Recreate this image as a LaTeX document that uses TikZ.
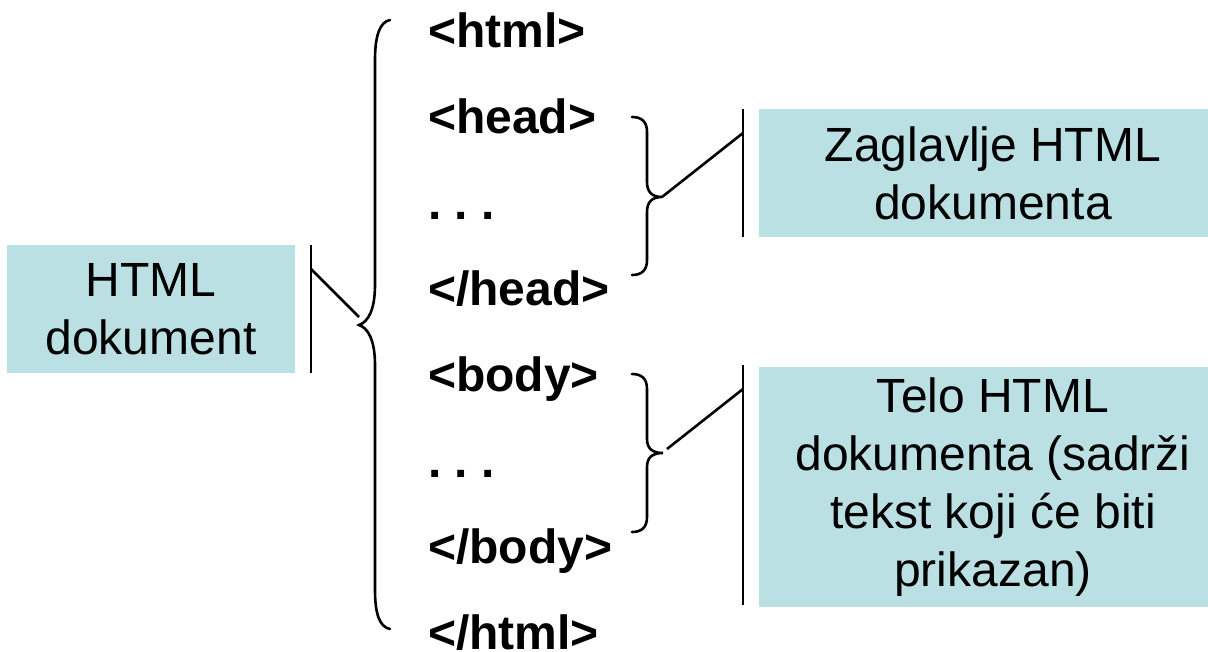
\documentclass[tikz,border=0pt]{standalone}
\usepackage{fontspec}
\setmainfont{Liberation Sans}
\definecolor{boxfill}{RGB}{187,224,227}
\begin{document}
\begin{tikzpicture}[x=1pt,y=-1pt,
  infobox/.style={fill=boxfill, inner sep=0pt, align=center, font=\fontsize{48}{58}\selectfont},
  tag/.style={anchor=base west, inner sep=0pt, font=\fontsize{48}{52}\selectfont\bfseries},
  ln/.style={line width=2.6pt, black},
  brace/.style={line width=2.6pt, black, line cap=round}]
\useasboundingbox (0,0) rectangle (1208,651);
\clip (0,0) rectangle (1208,651);
\fill[white] (0,0) rectangle (1208,651);

% boxes
\node[infobox, minimum width=288pt, minimum height=128pt] (doc) at (151,309) {HTML\\dokument};
\node[infobox, minimum width=468pt, minimum height=128pt] (head) at (993,173) {Zaglavlje HTML\\dokumenta};
\node[infobox, minimum width=468pt, minimum height=240pt] (body) at (993,487) {Telo HTML\\dokumenta (sadr\v{z}i\\tekst koji \'ce biti\\prikazan)};

% tags
\node[tag] (t1) at (428,47)  {<html>};
\node[tag] (t2) at (428,133) {<head>};
\node[tag] (t3) at (428,219) {.\ .\ .};
\node[tag] (t4) at (428,305) {</head>};
\node[tag] (t5) at (428,391) {<body>};
\node[tag] (t6) at (428,477) {.\ .\ .};
\node[tag] (t7) at (428,563) {</body>};
\node[tag] (t8) at (428,649) {</html>};

% left connector
\coordinate (lt) at (311,245);
\coordinate (lb) at (311,373);
\coordinate (ld) at (311,269);
\coordinate (bigtip) at (359,325);
\draw[ln] (lt) -- (lb);
\draw[ln] (ld) -- (359,317);

% big brace
\draw[brace] (390,20) .. controls (380,22) and (375,35) .. (375,60) -- (375,285)
  .. controls (375,310) and (368,322) .. (bigtip)
  .. controls (368,328) and (375,340) .. (375,365) -- (375,590)
  .. controls (375,615) and (380,627) .. (390,629);

% head brace
\coordinate (htip) at (662,197);
\draw[brace] (632,117) .. controls (642,117) and (647,122) .. (647,132) -- (647,182)
  .. controls (647,192) and (652,197) .. (htip)
  .. controls (652,197) and (647,202) .. (647,212) -- (647,260)
  .. controls (647,270) and (642,275) .. (632,275);
\coordinate (hvt) at (743,109);
\coordinate (hvb) at (743,237);
\coordinate (hvd) at (743,133);
\draw[ln] (hvt) -- (hvb);
\draw[ln] (htip) -- (hvd);

% body brace
\coordinate (btip) at (663,453);
\draw[brace] (632,374) .. controls (642,374) and (647,379) .. (647,389) -- (647,439)
  .. controls (647,449) and (653,453) .. (btip)
  .. controls (653,453) and (647,457) .. (647,467) -- (647,517)
  .. controls (647,527) and (642,532) .. (632,532);
\coordinate (bvt) at (743,365);
\coordinate (bvb) at (743,605);
\coordinate (bvd) at (743,389);
\draw[ln] (bvt) -- (bvb);
\draw[ln] (667,449) -- (bvd);
\end{tikzpicture}
\end{document}
